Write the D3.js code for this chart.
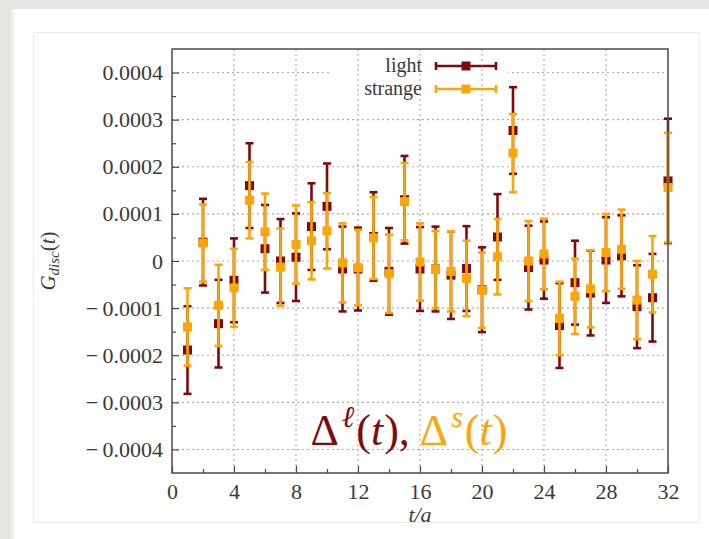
<!DOCTYPE html>
<html>
<head>
<meta charset="utf-8">
<script src="https://cdn.jsdelivr.net/npm/d3@7/dist/d3.min.js"></script>
<style>
  html, body { margin: 0; padding: 0; background: #e7e5e1; }
  svg { display: block; }
  text { font-family: 'Liberation Serif', 'DejaVu Serif', serif; fill: #3a3a3a; }
</style>
</head>
<body>
<svg id="chart" width="709" height="539"></svg>
<script>
(function () {
  'use strict';

  // time slices t/a
  var times = [1, 2, 3, 4, 5, 6, 7, 8, 9, 10, 11, 12, 13, 14, 15, 16,
    17, 18, 19, 20, 21, 22, 23, 24, 25, 26, 27, 28, 29, 30, 31, 32];

  // light quark disconnected correlator and its error
  var lightValues = [-1.89e-4, 0.40e-4, -1.33e-4, -0.41e-4, 1.60e-4, 0.26e-4, 0.00e-4, 0.08e-4,
    0.73e-4, 1.16e-4, -0.17e-4, -0.17e-4, 0.52e-4, -0.22e-4, 1.30e-4, -0.17e-4,
    -0.17e-4, -0.30e-4, -0.16e-4, -0.61e-4, 0.51e-4, 2.77e-4, -0.14e-4, 0.02e-4,
    -1.37e-4, -0.46e-4, -0.68e-4, 0.02e-4, 0.11e-4, -0.97e-4, -0.78e-4, 1.70e-4];
  var lightErrors = [0.93e-4, 0.92e-4, 0.93e-4, 0.89e-4, 0.90e-4, 0.93e-4, 0.89e-4, 0.93e-4,
    0.92e-4, 0.91e-4, 0.90e-4, 0.88e-4, 0.94e-4, 0.92e-4, 0.93e-4, 0.89e-4,
    0.90e-4, 0.93e-4, 0.90e-4, 0.90e-4, 0.91e-4, 0.92e-4, 0.89e-4, 0.82e-4,
    0.90e-4, 0.89e-4, 0.90e-4, 0.91e-4, 0.86e-4, 0.88e-4, 0.93e-4, 1.32e-4];

  // strange quark
  var strangeValues = [-1.40e-4, 0.38e-4, -0.94e-4, -0.57e-4, 1.29e-4, 0.62e-4, -0.13e-4, 0.35e-4,
    0.43e-4, 0.64e-4, -0.04e-4, -0.14e-4, 0.49e-4, -0.27e-4, 1.26e-4, -0.02e-4,
    -0.18e-4, -0.22e-4, -0.37e-4, -0.62e-4, 0.09e-4, 2.29e-4, 0.00e-4, 0.15e-4,
    -1.22e-4, -0.75e-4, -0.59e-4, 0.18e-4, 0.25e-4, -0.83e-4, -0.28e-4, 1.56e-4];
  var strangeErrors = [0.82e-4, 0.82e-4, 0.86e-4, 0.83e-4, 0.81e-4, 0.81e-4, 0.82e-4, 0.83e-4,
    0.82e-4, 0.80e-4, 0.84e-4, 0.80e-4, 0.87e-4, 0.83e-4, 0.82e-4, 0.82e-4,
    0.82e-4, 0.85e-4, 0.80e-4, 0.80e-4, 0.80e-4, 0.83e-4, 0.85e-4, 0.75e-4,
    0.78e-4, 0.80e-4, 0.82e-4, 0.82e-4, 0.84e-4, 0.83e-4, 0.81e-4, 1.16e-4];

  var xTicks = [0, 4, 8, 12, 16, 20, 24, 28, 32];
  var xMinorTicks = [2, 6, 10, 14, 18, 22, 26, 30];
  var xTickLabels = ['0', '4', '8', '12', '16', '20', '24', '28', '32'];
  var yTicks = [-4e-4, -3e-4, -2e-4, -1e-4, 0, 1e-4, 2e-4, 3e-4, 4e-4];
  var yMinorTicks = [-3.5e-4, -2.5e-4, -1.5e-4, -0.5e-4, 0.5e-4, 1.5e-4, 2.5e-4, 3.5e-4];
  var yTickLabels = ['\u2212\u20090.0004', '\u2212\u20090.0003', '\u2212\u20090.0002',
    '\u2212\u20090.0001', '0', '0.0001', '0.0002', '0.0003', '0.0004'];
  var seriesNames = ['light', 'strange'];
  var seriesColors = ['#7c0c0c', '#fba608'];

  var margin = {top: 49, right: 41, bottom: 66, left: 172};
  var width = 709 - margin.left - margin.right;
  var height = 539 - margin.top - margin.bottom;

  var svg = d3.select('#chart');

  // page background: card and inner panel
  svg.append('rect')
    .attr('x', 11).attr('y', 9)
    .attr('width', 698).attr('height', 530)
    .style('fill', '#ffffff');
  svg.append('rect')
    .attr('x', 11).attr('y', 9)
    .attr('width', 3).attr('height', 530)
    .style('fill', '#f2f1ee');
  svg.append('rect')
    .attr('x', 33.5).attr('y', 32.5)
    .attr('width', 666).attr('height', 490)
    .style('fill', 'none')
    .style('stroke', '#ececec')
    .style('stroke-width', 1.2);

  var x = d3.scaleLinear().domain([0, 32]).range([0, width]);
  var y = d3.scaleLinear().domain([-4.5e-4, 4.5e-4]).range([height, 0]);

  var g = svg.append('g')
    .attr('transform', 'translate(' + margin.left + ',' + margin.top + ')');

  // horizontal grid
  g.append('g')
    .selectAll('line')
    .data(yTicks)
    .enter()
    .append('line')
    .attr('x1', 0)
    .attr('x2', width)
    .attr('y1', function (d) { return y(d); })
    .attr('y2', function (d) { return y(d); })
    .style('stroke', '#aaaaaa')
    .style('stroke-width', 1.1)
    .style('stroke-dasharray', '2,3');

  // legend background hides the grid behind it
  var legend = g.append('g')
    .attr('class', 'legend')
    .attr('transform', 'translate(' + (x(16) + 2) + ',0)');
  legend.append('rect')
    .attr('x', -90)
    .attr('y', 2)
    .attr('width', 176)
    .attr('height', 48)
    .style('fill', '#ffffff');

  // vertical grid
  g.append('g')
    .selectAll('line')
    .data(xTicks.slice(1, -1))
    .enter()
    .append('line')
    .attr('x1', function (d) { return x(d); })
    .attr('x2', function (d) { return x(d); })
    .attr('y1', 0)
    .attr('y2', height)
    .style('stroke', '#aaaaaa')
    .style('stroke-width', 1.1)
    .style('stroke-dasharray', '2,3');

  // axes, ticks pointing inward
  var xAxis = g.append('g')
    .attr('class', 'axis axis--x')
    .attr('transform', 'translate(0,' + height + ')')
    .call(d3.axisBottom(x)
      .tickValues(xTicks)
      .tickSize(-7)
      .tickPadding(10)
      .tickFormat(function (d, i) { return xTickLabels[i]; }));
  g.append('g')
    .attr('transform', 'translate(0,' + height + ')')
    .call(d3.axisBottom(x).tickValues(xMinorTicks).tickSize(-4).tickFormat(''));
  var yAxis = g.append('g')
    .attr('class', 'axis axis--y')
    .call(d3.axisLeft(y)
      .tickValues(yTicks)
      .tickSize(-7)
      .tickPadding(9)
      .tickFormat(function (d, i) { return yTickLabels[i]; }));
  g.append('g')
    .call(d3.axisLeft(y).tickValues(yMinorTicks).tickSize(-4).tickFormat(''));

  g.selectAll('.domain').remove();
  g.selectAll('.tick line')
    .style('stroke', '#4a4a4a')
    .style('stroke-width', 1.2);
  xAxis.selectAll('text')
    .style('font-size', '22px')
    .style('fill', '#3a3a3a');
  yAxis.selectAll('text')
    .style('font-size', '22px')
    .style('fill', '#3a3a3a');

  // error bars, light first, strange on top
  var series = [
    {name: seriesNames[0], color: seriesColors[0], values: lightValues, errors: lightErrors},
    {name: seriesNames[1], color: seriesColors[1], values: strangeValues, errors: strangeErrors}
  ];
  var capHalf = 4;
  var boxSize = 9;

  series.forEach(function (s) {
    var pts = g.append('g')
      .attr('class', 'series')
      .selectAll('g')
      .data(times)
      .enter()
      .append('g');
    pts.append('line')
      .attr('x1', function (d) { return x(d); })
      .attr('x2', function (d) { return x(d); })
      .attr('y1', function (d, i) { return y(s.values[i] - s.errors[i]); })
      .attr('y2', function (d, i) { return y(s.values[i] + s.errors[i]); })
      .style('stroke', s.color)
      .style('stroke-width', 2.6);
    [-1, 1].forEach(function (sign) {
      pts.append('line')
        .attr('x1', function (d) { return x(d) - capHalf; })
        .attr('x2', function (d) { return x(d) + capHalf; })
        .attr('y1', function (d, i) { return y(s.values[i] + sign * s.errors[i]); })
        .attr('y2', function (d, i) { return y(s.values[i] + sign * s.errors[i]); })
        .style('stroke', s.color)
        .style('stroke-width', 2.6);
    });
    pts.append('rect')
      .attr('x', function (d) { return x(d) - boxSize / 2; })
      .attr('y', function (d, i) { return y(s.values[i]) - boxSize / 2; })
      .attr('width', boxSize)
      .attr('height', boxSize)
      .style('fill', s.color);
  });

  // legend entries
  series.forEach(function (s, i) {
    var row = legend.append('g')
      .attr('transform', 'translate(0,' + (17 + i * 23) + ')');
    row.append('text')
      .attr('x', 0)
      .attr('y', 6)
      .style('text-anchor', 'end')
      .style('font-size', '20px')
      .text(s.name);
    row.append('line')
      .attr('x1', 14).attr('x2', 74)
      .attr('y1', 0).attr('y2', 0)
      .style('stroke', s.color)
      .style('stroke-width', 2.6);
    [14, 74].forEach(function (cx) {
      row.append('line')
        .attr('x1', cx).attr('x2', cx)
        .attr('y1', -capHalf).attr('y2', capHalf)
        .style('stroke', s.color)
        .style('stroke-width', 2.6);
    });
    row.append('rect')
      .attr('x', 44 - boxSize / 2)
      .attr('y', -boxSize / 2)
      .attr('width', boxSize)
      .attr('height', boxSize)
      .style('fill', s.color);
  });

  // frame
  g.append('rect')
    .attr('width', width)
    .attr('height', height)
    .style('fill', 'none')
    .style('stroke', '#4a4a4a')
    .style('stroke-width', 1.5);

  // in-plot annotation
  var note = g.append('text')
    .attr('x', x(9) - 1)
    .attr('y', y(-3.9e-4))
    .style('font-size', '44px');
  note.append('tspan').style('fill', seriesColors[0]).text('\u0394');
  note.append('tspan').style('fill', seriesColors[0]).style('font-size', '30px')
    .style('font-style', 'italic').attr('dy', -18).attr('dx', 3).text('\u2113');
  note.append('tspan').style('fill', seriesColors[0]).attr('dy', 18).attr('dx', 2).text('(');
  note.append('tspan').style('fill', seriesColors[0]).style('font-style', 'italic').text('t');
  note.append('tspan').style('fill', seriesColors[0]).attr('dx', 1).text('),');
  note.append('tspan').style('fill', seriesColors[1]).attr('dx', 10).text('\u0394');
  note.append('tspan').style('fill', seriesColors[1]).style('font-size', '30px')
    .style('font-style', 'italic').attr('dy', -18).attr('dx', 3).text('s');
  note.append('tspan').style('fill', seriesColors[1]).attr('dy', 18).attr('dx', 2).text('(');
  note.append('tspan').style('fill', seriesColors[1]).style('font-style', 'italic').text('t');
  note.append('tspan').style('fill', seriesColors[1]).attr('dx', 1).text(')');

  // axis titles
  var yTitle = g.append('text')
    .attr('transform', 'rotate(-90)')
    .attr('x', -height / 2)
    .attr('y', -margin.left + 55)
    .style('text-anchor', 'middle')
    .style('font-size', '21px')
    .style('font-style', 'italic');
  yTitle.append('tspan').text('G');
  yTitle.append('tspan').style('font-size', '15px').attr('dy', 4).text('disc');
  yTitle.append('tspan').style('font-style', 'normal').attr('dy', -4).text('(');
  yTitle.append('tspan').text('t');
  yTitle.append('tspan').style('font-style', 'normal').text(')');

  g.append('text')
    .attr('x', width / 2)
    .attr('y', height + 49)
    .style('text-anchor', 'middle')
    .style('font-size', '22px')
    .style('font-style', 'italic')
    .text('t/a');
}());
</script>
</body>
</html>
